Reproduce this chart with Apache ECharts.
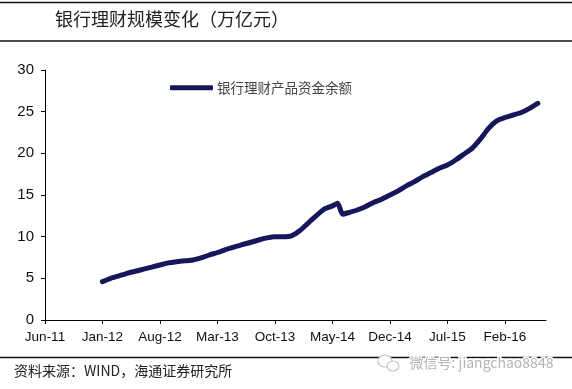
<!DOCTYPE html>
<html>
<head>
<meta charset="utf-8">
<script src="https://cdn.jsdelivr.net/npm/echarts@6/dist/echarts.min.js"></script>
<style>
html,body{margin:0;padding:0;background:#fff;}
#c{width:572px;height:389px;}
</style>
</head>
<body>
<div id="c"></div>
<script>
var titleText = '银行理财规模变化（万亿元）';
var seriesName = '银行理财产品资金余额';
var sourceText = '资料来源：WIND，海通证券研究所';
var watermarkText = '微信号: jiangchao8848';

var monthNames = ['Jan','Feb','Mar','Apr','May','Jun','Jul','Aug','Sep','Oct','Nov','Dec'];
var axisStartYear = 2011, axisStartMonth = 6;   // Jun-11
var axisMonths = 61;                             // up to Jul-16
var tickEvery = 7;                               // Jun-11, Jan-12, Aug-12, ...

var dates = [
 '2012-01-01','2012-02-01','2012-03-01','2012-04-01','2012-05-01','2012-06-01',
 '2012-07-01','2012-08-01','2012-09-01','2012-10-01','2012-11-01','2012-12-01',
 '2013-01-01','2013-02-01','2013-03-01','2013-04-01','2013-05-01','2013-06-01',
 '2013-07-01','2013-08-01','2013-09-01','2013-10-01','2013-11-01','2013-12-01',
 '2014-01-01','2014-02-01','2014-03-01','2014-04-01','2014-05-01','2014-05-20',
 '2014-06-08','2014-07-01','2014-08-01','2014-09-01','2014-10-01','2014-11-01','2014-12-01',
 '2015-01-01','2015-02-01','2015-03-01','2015-04-01','2015-05-01','2015-06-01',
 '2015-07-01','2015-08-01','2015-09-01','2015-10-01','2015-11-01','2015-12-01',
 '2016-01-01','2016-02-01','2016-03-01','2016-04-01','2016-05-01','2016-06-01'
];
var values = [
 4.6, 5.0, 5.3, 5.6, 5.85, 6.1,
 6.35, 6.6, 6.85, 7.0, 7.1, 7.2,
 7.45, 7.8, 8.1, 8.45, 8.75, 9.05,
 9.3, 9.6, 9.85, 10.0, 10.0, 10.1,
 10.7, 11.6, 12.5, 13.3, 13.7, 14.0,
 12.7, 12.9, 13.2, 13.6, 14.1, 14.5, 15.0,
 15.5, 16.1, 16.6, 17.2, 17.7, 18.2,
 18.6, 19.2, 19.9, 20.6, 21.7, 23.0,
 23.9, 24.3, 24.6, 24.9, 25.4, 26.0
];

// month categories for the axis
var monthCats = [];
for (var i = 0; i <= axisMonths; i++) {
  var mi = axisStartMonth - 1 + i;
  var y = axisStartYear + Math.floor(mi / 12);
  monthCats.push(monthNames[mi % 12] + '-' + String(y).slice(2));
}
function monthOffset(s) {
  var p = s.split('-');
  return (+p[0] - axisStartYear) * 12 + (+p[1] - axisStartMonth) + (+p[2] - 1) / 30;
}
var data = dates.map(function(d, i){ return [monthOffset(d), values[i]]; });

var chart = echarts.init(document.getElementById('c'), null, {renderer:'canvas'});
var lineColor = '#16165a';
chart.setOption({
  animation: false,
  backgroundColor: '#fff',
  grid: {left: 45, right: 26, top: 70, bottom: 69, containLabel: false},
  legend: {
    data: [{name: seriesName, icon: 'roundRect'}],
    left: 170, top: 81, padding: 0,
    itemWidth: 43, itemHeight: 5, itemGap: 10,
    textStyle: {fontFamily: 'Noto Sans CJK SC', fontSize: 13.5, color: '#444', padding: [0, 0, 0, -1]}
  },
  xAxis: [{
    type: 'category',
    data: monthCats,
    boundaryGap: false,
    axisLine: {lineStyle: {color: '#000', width: 1}},
    axisTick: {show: true, length: 4, interval: tickEvery - 1, lineStyle: {color: '#000'}},
    axisLabel: {
      interval: tickEvery - 1,
      margin: 10,
      fontFamily: 'Liberation Sans, Arial', fontSize: 13.5, color: '#111'
    },
    splitLine: {show: false}
  }, {
    type: 'value', min: 0, max: axisMonths, show: false,
    splitLine: {show: false}
  }],
  yAxis: {
    type: 'value', min: 0, max: 30, interval: 5,
    axisLine: {show: true, lineStyle: {color: '#000', width: 1}},
    axisTick: {show: true, length: 4, lineStyle: {color: '#000'}},
    axisLabel: {margin: 11, fontFamily: 'Liberation Sans, Arial', fontSize: 15, color: '#111'},
    splitLine: {show: false}
  },
  series: [{
    name: seriesName,
    type: 'line',
    xAxisIndex: 1,
    data: data,
    showSymbol: false,
    smooth: 0.2,
    lineStyle: {color: lineColor, width: 5, cap: 'round', join: 'round'},
    itemStyle: {color: lineColor}
  }],
  graphic: [
    {type: 'line', shape: {x1: 0, y1: 2.5, x2: 572, y2: 2.5}, style: {stroke: '#111', lineWidth: 1.5}},
    {type: 'text', left: 55, top: 10, style: {text: titleText, font: '18px "Noto Sans CJK SC"', fill: '#222'}},
    {type: 'line', shape: {x1: 0, y1: 41, x2: 572, y2: 41}, style: {stroke: '#111', lineWidth: 1.5}},
    {type: 'line', shape: {x1: 0, y1: 357.5, x2: 572, y2: 357.5}, style: {stroke: '#111', lineWidth: 1.5}},
    {type: 'text', left: 14, top: 364, style: {text: sourceText, font: '14px "Noto Sans CJK SC"', fill: '#222'}},
    {type: 'ellipse', shape: {cx: 385, cy: 361, rx: 7, ry: 6}, style: {fill: '#fff', stroke: '#c4c4c4', lineWidth: 1.2}},
    {type: 'ellipse', shape: {cx: 393, cy: 366, rx: 6, ry: 5}, style: {fill: '#fff', stroke: '#c4c4c4', lineWidth: 1.2}},
    {type: 'text', left: 408, top: 354, style: {text: watermarkText, font: '14px "Noto Sans CJK SC"', fill: '#b4b4b4', stroke: '#fff', lineWidth: 3}}
  ]
});
</script>
</body>
</html>
